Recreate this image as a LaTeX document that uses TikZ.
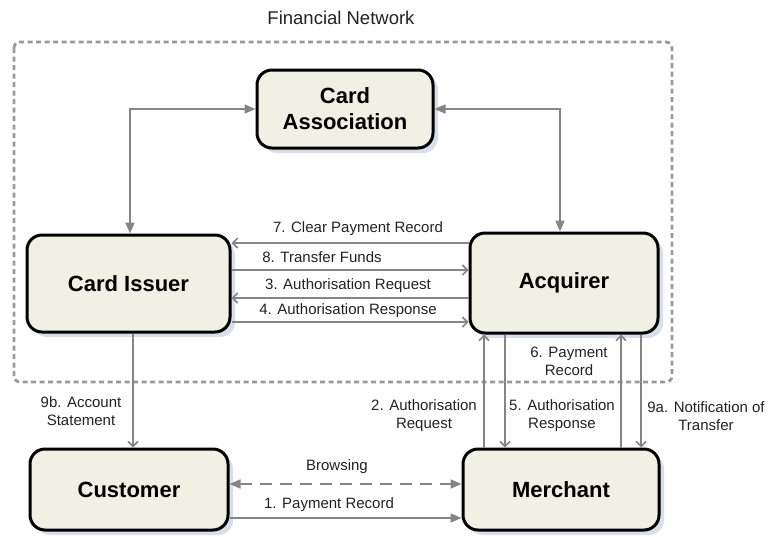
\documentclass[tikz,border=0pt]{standalone}
\usepackage{fontspec}
\setmainfont{Liberation Sans}
\usetikzlibrary{arrows.meta}
\definecolor{boxfill}{HTML}{F0F0E4}
\definecolor{shadowc}{HTML}{D8DEEA}
\definecolor{arrowc}{HTML}{858585}
\definecolor{framec}{HTML}{9A9A9A}
\definecolor{labc}{HTML}{222222}
\tikzset{
  ent/.style={draw=black, line width=3pt, rounded corners=15pt, fill=boxfill,
    align=center, font=\fontsize{22}{26}\selectfont\bfseries, inner sep=0pt},
  shad/.style={fill=shadowc, rounded corners=15pt},
  conn/.style={draw=arrowc, line width=1.6pt},
  chev/.style={conn, arrows={-Straight Barb[length=5pt,width=10pt,line width=1.6pt]}},
  tri/.style={conn, arrows={-Triangle[length=11pt,width=9pt]}},
  trib/.style={conn, arrows={Triangle[length=11pt,width=9pt]-Triangle[length=11pt,width=9pt]}},
  lab/.style={font=\fontsize{15}{18}\selectfont, text=labc, align=center, inner sep=1pt},
}
\begin{document}
\begin{tikzpicture}[x=1pt,y=-1pt]
\useasboundingbox (0,0) rectangle (770,536);
% frame
\draw[framec, line width=2.8pt, dash pattern=on 5pt off 3.5pt, rounded corners=6pt] (14,42) rectangle (672,382);
\node[font=\fontsize{18.5}{22}\selectfont, text=labc] (title) at (341,18) {Financial Network};
% shadows
\fill[shad] (262,75) rectangle (438,153);
\fill[shad] (32,240) rectangle (235,337);
\fill[shad] (475,238) rectangle (663,338);
\fill[shad] (35,454) rectangle (233,535);
\fill[shad] (468,454) rectangle (664,535);
% entities
\node[ent, minimum width=176pt, minimum height=78pt] (assoc) at (345,109) {Card\\Association};
\node[ent, minimum width=203pt, minimum height=97pt] (issuer) at (128.5,283.5) {Card Issuer};
\node[ent, minimum width=188pt, minimum height=100pt] (acq) at (564,283) {Acquirer};
\node[ent, minimum width=198pt, minimum height=81pt] (cust) at (129,489.5) {Customer};
\node[ent, minimum width=196pt, minimum height=81pt] (merch) at (561,489.5) {Merchant};
% association links
\draw[trib] ({130,0} |- issuer.north) |- (assoc.west);
\draw[trib] (assoc.east) -| ({560,0} |- acq.north);
% issuer <-> acquirer
\draw[chev] (acq.west |- {0,243}) -- (issuer.east |- {0,243});
\draw[chev] (issuer.east |- {0,270}) -- (acq.west |- {0,270});
\draw[chev] (acq.west |- {0,298}) -- (issuer.east |- {0,298});
\draw[chev] (issuer.east |- {0,322}) -- (acq.west |- {0,322});
\node[lab] (l7) at (358,229) {7. Clear Payment Record};
\node[lab] (l8) at (322,257) {8. Transfer Funds};
\node[lab] (l3) at (348,286) {3. Authorisation Request};
\node[lab] (l4) at (348,311) {4. Authorisation Response};
% issuer -> customer
\draw[chev] ({133,0} |- issuer.south) -- ({133,0} |- cust.north);
\node[lab] (l9b) at (81,411) {9b. Account\\Statement};
% merchant <-> acquirer
\draw[chev] ({484,0} |- merch.north) -- ({484,0} |- acq.south);
\draw[chev] ({505,0} |- acq.south) -- ({505,0} |- merch.north);
\draw[chev] ({621,0} |- merch.north) -- ({621,0} |- acq.south);
\draw[chev] ({641,0} |- acq.south) -- ({641,0} |- merch.north);
\node[lab] (l2) at (424,416) {2. Authorisation\\Request};
\node[lab] (l5) at (562,416) {5. Authorisation\\Response};
\node[lab] (l6) at (569,361) {6. Payment\\Record};
\node[lab] (l9a) at (706,416) {9a. Notification of\\Transfer};
% customer <-> merchant
\draw[trib, dash pattern=on 12pt off 8pt] (cust.east |- {0,484}) -- (merch.west |- {0,484});
\draw[tri] (cust.east |- {0,518}) -- (merch.west |- {0,518});
\node[lab] (lb) at (337,467) {Browsing};
\node[lab] (l1) at (329,505) {1. Payment Record};
\end{tikzpicture}
\end{document}
